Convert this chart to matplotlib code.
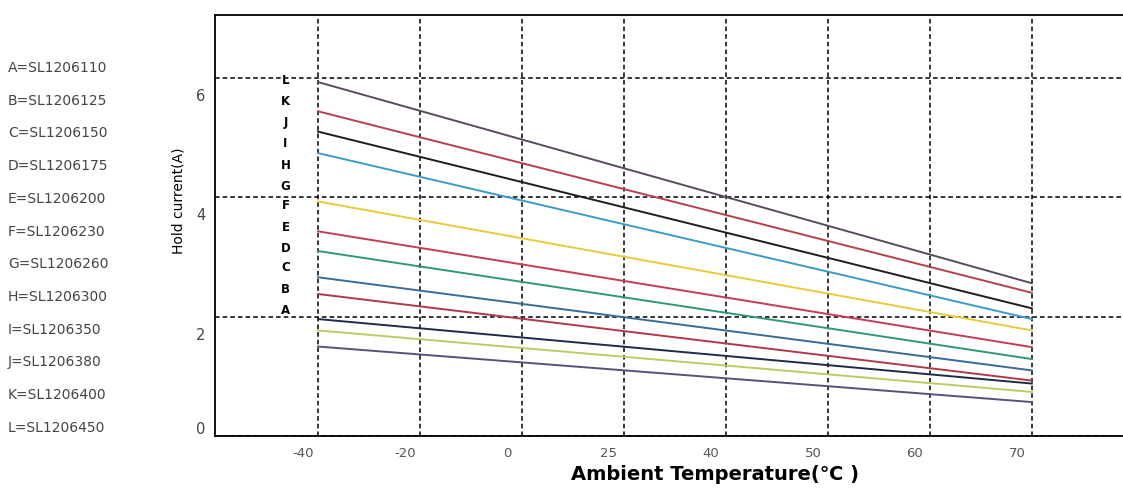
import matplotlib
matplotlib.use('Agg')
from matplotlib import pyplot as plt
from matplotlib import transforms

# parts, listed top curve first
letters = ['L', 'K', 'J', 'I', 'H', 'G', 'F', 'E', 'D', 'C', 'B', 'A']
parts = ['SL1206110', 'SL1206125', 'SL1206150', 'SL1206175', 'SL1206200', 'SL1206230',
         'SL1206260', 'SL1206300', 'SL1206350', 'SL1206380', 'SL1206400', 'SL1206450']
legend_letters = ['A', 'B', 'C', 'D', 'E', 'F', 'G', 'H', 'I', 'J', 'K', 'L']

temp_labels = ['-40', '-20', '0', '25', '40', '50', '60', '70']
# hold current at -40 and at 70 (A), top curve first
hold_start = [5.93, 5.44, 5.10, 4.74, 3.93, 3.43, 3.10, 2.66, 2.38, 1.96, 1.77, 1.50]
hold_end = [2.56, 2.40, 2.14, 1.96, 1.77, 1.49, 1.29, 1.10, 0.93, 0.88, 0.74, 0.57]
colors = ['#5b4a5e', '#b8404e', '#1e1e22', '#3a9cc4', '#e6cc3a', '#c63c52',
          '#2f9a72', '#3a6c96', '#b03a4a', '#1f2c48', '#b6cf62', '#5c5078']
letter_y = [5.95, 5.6, 5.25, 4.90, 4.53, 4.18, 3.87, 3.50, 3.15, 2.82, 2.45, 2.10]

fig = plt.figure(figsize=(11.23, 4.9), dpi=100)
ax = fig.add_axes([0.1915, 0.110, 0.81, 0.859])

pos = list(range(len(temp_labels)))
for s, e, c in zip(hold_start, hold_end, colors):
    ax.plot([pos[0], pos[-1]], [s, e], color=c, lw=1.4, zorder=3)

for l, y in zip(letters, letter_y):
    ax.text(-0.32, y, l, fontsize=8.5, fontweight='bold', ha='center', va='center')

ax.set_xlim(-1.01, 7.91)
ax.set_ylim(0, 7.05)
ax.set_xticks(pos)
ax.set_xticklabels(temp_labels, fontsize=9.5, color='#555555')
ax.set_yticks([0, 2, 4, 6])
ax.set_yticklabels(['0', '2', '4', '6'], fontsize=10.5, color='#444444')
ax.tick_params(length=0)
ax.tick_params(axis='x', pad=8)
ax.tick_params(axis='y', pad=7)
ax.grid(True, color='black', linestyle=(0, (3, 2)), lw=1.1, zorder=1)
ax.set_axisbelow(True)

for sp in ['top', 'left', 'bottom']:
    ax.spines[sp].set_linewidth(1.3)
    ax.spines[sp].set_zorder(5)
ax.spines['right'].set_visible(False)

# labels in the source sit off their grid lines
for lab in ax.get_xticklabels():
    lab.set_transform(lab.get_transform() + transforms.ScaledTranslation(-15 / 100, 0, fig.dpi_scale_trans))
for lab, dy in zip(ax.get_yticklabels(), [8, -17, -17, -17]):
    lab.set_transform(lab.get_transform() + transforms.ScaledTranslation(0, dy / 100, fig.dpi_scale_trans))

ax.set_ylabel('Hold current(A)', fontsize=10)
ax.yaxis.set_label_coords(-0.032, 0.56)
ax.set_xlabel('Ambient Temperature(℃ )', fontsize=14, fontweight='bold',
              family=['DejaVu Sans', 'Noto Sans CJK SC'])
ax.xaxis.set_label_coords(0.55, -0.069)

for i, (k, p) in enumerate(zip(legend_letters, parts)):
    fig.text(0.007, 1 - (68 + i * 32.7) / 490, f'{k}={p}', fontsize=10, color='#444444',
             va='center', ha='left')

fig.savefig('out.png', dpi=100)
